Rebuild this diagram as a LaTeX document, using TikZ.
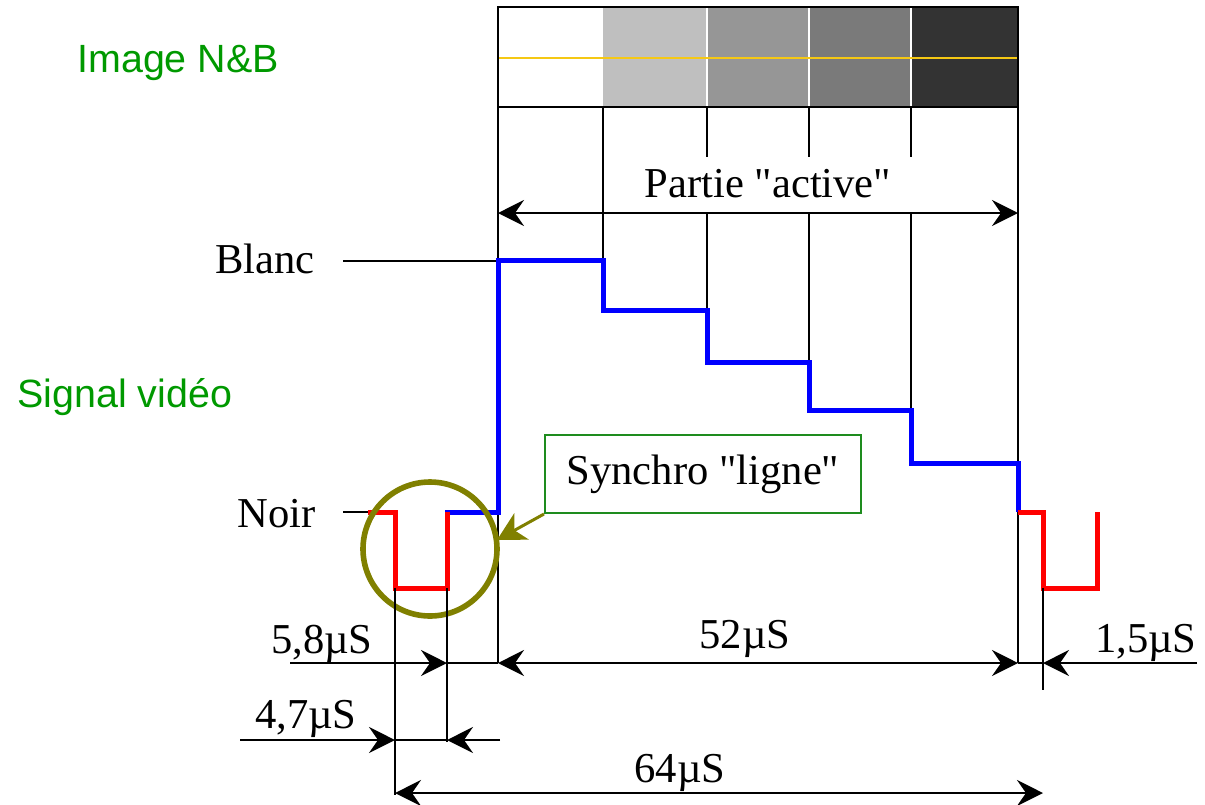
\documentclass[tikz,border=0pt]{standalone}
\usepackage{fontspec}
\setmainfont{Liberation Serif}[Ligatures=TeXOff]
\newfontfamily\tagfont{Liberation Sans}
\usetikzlibrary{arrows.meta,positioning}
\definecolor{TagGreen}{RGB}{0,153,0}
\definecolor{BoxGreen}{RGB}{30,140,30}
\definecolor{RingOlive}{RGB}{128,128,0}
\definecolor{LineYellow}{RGB}{245,200,20}

\begin{document}
\begin{tikzpicture}[x=0.5pt, y=-0.5pt,
	>={Stealth[length=13pt,width=13pt,inset=4.5pt]},
	lbl/.style={font=\fontsize{21.3}{24}\selectfont, inner sep=0pt},
	tag/.style={font=\tagfont\fontsize{19.7}{22}\selectfont, text=TagGreen, inner sep=0pt},
	thin/.style={black, line width=1pt},
	sig/.style={line width=2.5pt, line join=miter}]
	\useasboundingbox (0,0) rectangle (1205,804);
	% image bar
	\foreach \xa/\xb/\shade in {498/603/white, 603/707/black!25, 707/809/black!41, 809/911/black!52, 911/1018/black!80}
		\fill[\shade] (\xa,7) rectangle (\xb,107);
	\foreach \x in {707,809,911}
		\draw[white, line width=0.6pt] (\x,7) -- (\x,107);
	\draw[LineYellow, line width=1.2pt] (498,58) -- (1018,58);
	\draw[thin, line width=1.2pt] (498,7) rectangle (1018,107);
	\node[tag, anchor=base west] (image) at (77,72) {Image N\&B};
	\node[tag, anchor=base west] (signal) at (17,407) {Signal vidéo};
	% vertical guides
	\draw[thin] (498,107) -- (498,663);
	\draw[thin] (1018,107) -- (1018,663);
	\draw[thin] (603,107) -- (603,260);
	\foreach \x/\lev in {707/310, 809/362, 911/410} {
		\draw[thin] (\x,107) -- (\x,157);
		\draw[thin] (\x,213) -- (\x,\lev);
	}
	\node[lbl, anchor=base] (active) at (768,197) {Partie "active"};
	\draw[thin, <->] (498,213) -- (1018,213);
	% levels
	\node[lbl, anchor=base east] (blanc) at (315,273) {Blanc};
	\node[lbl, anchor=base east] (noir) at (316,527) {Noir};
	\coordinate (blancL) at (343,261);
	\coordinate (blancR) at (498,261);
	\coordinate (noirL) at (343,512);
	\coordinate (noirR) at (368,512);
	\draw[thin] (blancL) -- (blancR);
	\draw[thin] (noirL) -- (noirR);
	% signal
	\draw[sig, blue] (445,512) -- (498,512) -- (498,260) -- (603,260) -- (603,310) -- (707,310)
		-- (707,362) -- (809,362) -- (809,410) -- (911,410) -- (911,463) -- (1018,463) -- (1018,512);
	\draw[sig, red] (368,512) -- (395,512) -- (395,588) -- (447,588) -- (447,512);
	\draw[sig, red] (1018,512) -- (1043,512) -- (1043,588) -- (1097,588) -- (1097,512);
	% synchro
	\node[circle, draw=RingOlive, line width=2.8pt, minimum size=67pt, inner sep=0pt] (ring) at (430,549) {};
	\node[lbl, draw=BoxGreen, line width=1pt, fill=white, minimum width=158pt, minimum height=39pt] (synchro) at (703,474) {Synchro "ligne"};
	\coordinate (ringhit) at (497,540);
	\draw[RingOlive, line width=1.5pt, -{Stealth[length=14pt,width=15pt,inset=4pt]}] (synchro.south west) -- (ringhit);
	% durations
	\draw[thin] (395,588) -- (395,795);
	\draw[thin] (447,588) -- (447,742);
	\draw[thin] (1043,588) -- (1043,690);
	\draw[thin, ->] (290,663) -- (447,663);
	\draw[thin] (447,663) -- (498,663);
	\draw[thin, <->] (498,663) -- (1018,663);
	\draw[thin] (1018,663) -- (1043,663);
	\draw[thin, ->] (1197,663) -- (1043,663);
	\draw[thin, ->] (240,740) -- (395,740);
	\draw[thin] (395,740) -- (447,740);
	\draw[thin, ->] (500,740) -- (447,740);
	\draw[thin, <->] (395,793) -- (1043,793);
	\node[lbl, anchor=base east] (t58) at (373,653) {5,8µS};
	\node[lbl, anchor=base east] (t47) at (357,728) {4,7µS};
	\node[lbl, anchor=base] (t52) at (745,648) {52µS};
	\node[lbl, anchor=base] (t64) at (680,782) {64µS};
	\node[lbl, anchor=base east] (t15) at (1197,652) {1,5µS};
\end{tikzpicture}
\end{document}
